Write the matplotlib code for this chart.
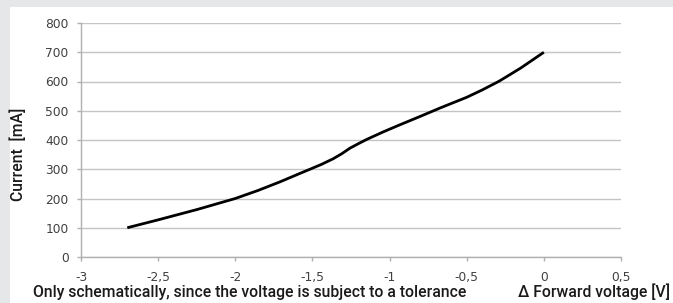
import matplotlib
matplotlib.use('Agg')
import matplotlib.pyplot as plt
from matplotlib.patches import Rectangle

# values
delta_v = [-2.7, -2.5, -2.25, -2.0, -1.85, -1.71, -1.58, -1.516, -1.44, -1.365, -1.31, -1.257,
           -1.2, -1.148, -1.04, -0.933, -0.8, -0.67, -0.5, -0.4, -0.29, -0.15, 0.0]
current = [100, 127, 162, 200, 228, 257, 286, 300, 317, 336, 353, 372,
           388, 402, 428, 452, 481, 510, 546, 571, 601, 646, 700]

x_ticks = [-3, -2.5, -2, -1.5, -1, -0.5, 0, 0.5]
x_tick_labels = ['-3', '-2,5', '-2', '-1,5', '-1', '-0,5', '0', '0,5']
y_ticks = [0, 100, 200, 300, 400, 500, 600, 700, 800]

plt.rcParams['font.family'] = ['Roboto', 'DejaVu Sans']

W, H = 673, 303
fig = plt.figure(figsize=(W / 100, H / 100), dpi=100)
fig.patch.set_facecolor('#e6e7e9')
fig.patches.append(Rectangle((10 / W, 0), 1, 1 - 7 / H, transform=fig.transFigure,
                             facecolor='white', edgecolor='none', zorder=-5))

ax = fig.add_axes([81 / W, 1 - 257 / H, 540 / W, 234 / H])
ax.set_zorder(2)
ax.set_facecolor('none')
ax.plot(delta_v, current, color='black', lw=2.0, solid_capstyle='butt', solid_joinstyle='round')

ax.set_xlim(-3, 0.5)
ax.set_ylim(0, 800)
ax.set_xticks(x_ticks)
ax.set_xticklabels(x_tick_labels)
ax.set_yticks(y_ticks)
ax.grid(axis='y', color='#c4c4c4', lw=1.0)
ax.set_axisbelow(True)
for s in ['top', 'right']:
    ax.spines[s].set_visible(False)
for s in ['left', 'bottom']:
    ax.spines[s].set_color('#b0b0b0')
    ax.spines[s].set_linewidth(1.0)
ax.tick_params(axis='both', colors='#b0b0b0', labelcolor='#404040', labelsize=8.8, length=3, width=1)
ax.tick_params(axis='x', pad=7)
ax.tick_params(axis='y', pad=6)
for lab in ax.get_xticklabels() + ax.get_yticklabels():
    lab.set_family('DejaVu Sans')

fig.text(18 / W, 1 - 154 / H, 'Current  [mA]', rotation=90, ha='center', va='center',
         fontsize=11.3, color='#1a1a1a', fontweight='medium')
fig.text(33 / W, 1 - 297 / H, 'Only schematically, since the voltage is subject to a tolerance',
         ha='left', va='baseline', fontsize=11.3, color='#1a1a1a', fontweight='medium')
fig.text(670 / W, 1 - 297 / H, '\u0394 Forward voltage [V]', ha='right', va='baseline',
         fontsize=11.3, color='#1a1a1a', fontweight='medium')

fig.savefig('out.png', dpi=100, facecolor=fig.get_facecolor())
